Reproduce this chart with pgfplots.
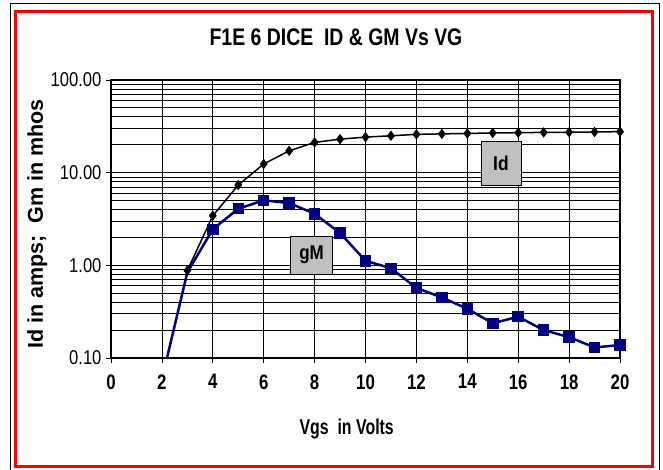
\documentclass[border=0pt]{standalone}
\usepackage{pgfplots}
\pgfplotsset{compat=1.18}
\usepackage{fontspec}
\setmainfont{Liberation Sans}
\usepackage{graphicx}
\definecolor{navyb}{RGB}{0,0,128}
\definecolor{boxgray}{RGB}{192,192,192}
\newcommand\nx[1]{{\fontsize{21}{21}\selectfont\bfseries\scalebox{0.8}[1]{#1}}}
\newcommand\ny[1]{{\fontsize{20}{20}\selectfont\scalebox{0.83}[1]{#1}}}
\begin{document}
\begin{tikzpicture}[x=1pt,y=1pt]
\useasboundingbox (0,0) rectangle (663,470);
\draw[black, line width=1pt] (10,-5) rectangle (659,466);
\draw[red, line width=3pt] (15,3) rectangle (652,458);
\begin{axis}[
  at={(111pt,112pt)}, anchor=south west, scale only axis,
  width=509pt, height=278pt,
  xmin=0, xmax=20, ymode=log, ymin=0.1, ymax=100,
  xtick={0,2,...,20},
  xticklabels={\nx{0},\nx{2},\nx{4},\nx{6},\nx{8},\nx{10},\nx{12},\nx{14},\nx{16},\nx{18},\nx{20}},
  ytick={0.1,1,10,100},
  yticklabels={\ny{0.10},\ny{1.00},\ny{10.00},\ny{100.00}},
  minor ytick={0.2,0.3,0.4,0.5,0.6,0.7,0.8,0.9,2,3,4,5,6,7,8,9,20,30,40,50,60,70,80,90},
  xmajorgrids, ymajorgrids, yminorgrids,
  major grid style={black, line width=0.8pt},
  minor grid style={black, line width=0.8pt},
  axis line style={black, line width=1.2pt},
  tick style={black, line width=0.8pt},
  major tick length=5pt, minor tick length=0pt,
  tick align=outside, xtick pos=bottom, ytick pos=left,
  xticklabel style={yshift=-8pt},
  yticklabel style={xshift=-1pt},
  title={\scalebox{0.81}[1]{F1E 6 DICE\ \ ID \& GM Vs VG}},
  title style={font=\fontsize{24}{24}\selectfont\bfseries, at={(rel axis cs:0.442,1.1014)}, anchor=base},
  xlabel={\scalebox{0.74}[1]{Vgs\ \ in Volts}},
  xlabel style={font=\fontsize{21.5}{21.5}\selectfont\bfseries, at={(rel axis cs:0.463,-0.2745)}, anchor=base},
  ylabel={Id in amps;\ \ Gm in mhos},
  ylabel style={font=\fontsize{21.5}{21.5}\selectfont\bfseries, at={(rel axis cs:-0.1336,0.482)}, anchor=base, rotate=0},
]
\addplot[black, line width=1.5pt, mark=diamond*, mark size=4pt, mark options={solid}]
  coordinates {(3,0.88) (4,3.43) (5,7.35) (6,12.4) (7,17.2) (8,21.2) (9,23.0) (10,24.2)
    (11,25.0) (12,25.9) (13,26.2) (14,26.5) (15,26.8) (16,27.0) (17,27.2) (18,27.3) (19,27.5) (20,27.7)};
\addplot[navyb, line width=2.5pt, mark=square*, mark size=4.5pt, mark options={solid}, mark indices={2,...,19}]
  coordinates {(2,0.059) (3,0.84) (4,2.45) (5,4.08) (6,5.03) (7,4.70) (8,3.60) (9,2.23) (10,1.12)
    (11,0.93) (12,0.57) (13,0.45) (14,0.34) (15,0.237) (16,0.279) (17,0.20) (18,0.168) (19,0.130) (20,0.138)};
\node[draw=black, line width=0.8pt, fill=boxgray, minimum width=40pt, minimum height=44pt, inner sep=0pt,
  font=\fontsize{20}{20}\selectfont\bfseries] at (axis cs:15.32,12.7) {\scalebox{0.87}[1]{Id}};
\node[draw=black, line width=0.8pt, fill=boxgray, minimum width=42pt, minimum height=38pt, inner sep=0pt,
  font=\fontsize{20}{20}\selectfont\bfseries] at (axis cs:7.88,1.29) {\scalebox{0.85}[1]{gM}};
\end{axis}
\end{tikzpicture}
\end{document}
